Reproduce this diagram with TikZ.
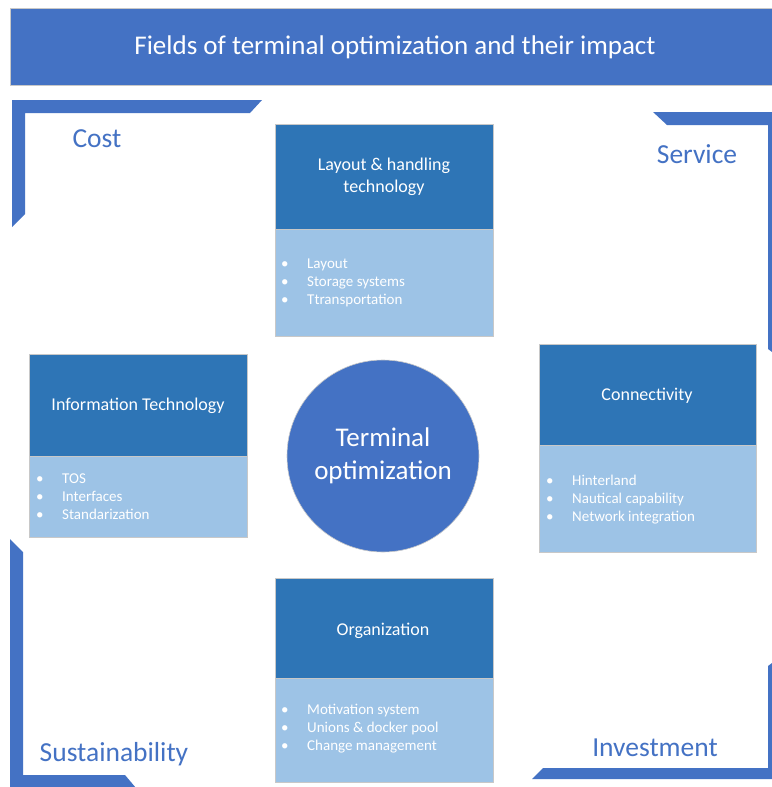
\documentclass[tikz,border=0pt]{standalone}
\usepackage{fontspec}
\setmainfont{Carlito}
\definecolor{obl}{HTML}{4472C4}
\definecolor{dbl}{HTML}{2E75B6}
\definecolor{lbl}{HTML}{9DC3E6}
\definecolor{edge}{HTML}{C8C8C8}
\begin{document}
\begin{tikzpicture}[x=1pt,y=-1pt,
  head/.style={fill=dbl,draw=edge,line width=0.8pt,anchor=north west,inner sep=0pt},
  headtext/.style={text=white,align=center,font=\fontsize{18}{22}\selectfont},
  body/.style={fill=lbl,draw=edge,line width=0.8pt,anchor=north west,inner sep=0pt},
  items/.style={anchor=west,inner sep=0pt,text=white,align=left,font=\fontsize{15}{18}\selectfont},
  bracket/.style={fill=obl,draw=none},
  cat/.style={text=obl,font=\fontsize{27.5}{30}\selectfont,inner sep=0pt}]
\useasboundingbox (0,0) rectangle (771,787);
\fill[white] (0,0) rectangle (771,787);
% title
\node[fill=obl,draw=edge,line width=0.8pt,anchor=north west,minimum width=762pt,minimum height=77pt,inner sep=0pt] (titlebar) at (10,8) {};
\node[text=white,font=\fontsize{27}{30}\selectfont] (title) at (395,47) {Fields of terminal optimization and their impact};
% brackets
\fill[bracket] (12,100) -- (262,100) -- (250,113) -- (25,113) -- (25,214) -- (12,227) -- cycle;
\fill[bracket] (653,112) -- (772,112) -- (772,352) -- (768,349) -- (768,125) -- (667,125) -- cycle;
\fill[bracket] (10,539) -- (23,552) -- (23,775) -- (125,775) -- (136,788) -- (10,788) -- cycle;
\fill[bracket] (532,779) -- (772,779) -- (772,663) -- (768,666) -- (768,768) -- (543,768) -- cycle;
% category labels
\node[cat] (cost) at (97,139) {Cost};
\node[cat] (service) at (697,154) {Service};
\node[cat] (sust) at (114,754) {Sustainability};
\node[cat] (invest) at (655,748) {Investment};
% layout box
\node[head,minimum width=218pt,minimum height=105pt] (layh) at (275,124) {};
\node[headtext] (layt) at (384,177) {Layout \& handling\\technology};
\node[body,minimum width=218pt,minimum height=107pt] (layb) at (275,229) {};
\node[items] (layi) at (281,283) {\makebox[26pt][l]{•}Layout\\\makebox[26pt][l]{•}Storage systems\\\makebox[26pt][l]{•}Ttransportation};
% IT box
\node[head,minimum width=218pt,minimum height=102pt] (ith) at (29,354) {};
\node[headtext] (itt) at (138,406) {Information Technology};
\node[body,minimum width=218pt,minimum height=81pt] (itb) at (29,456) {};
\node[items] (iti) at (36,497) {\makebox[26pt][l]{•}TOS\\\makebox[26pt][l]{•}Interfaces\\\makebox[26pt][l]{•}Standarization};
% connectivity box
\node[head,minimum width=217pt,minimum height=101pt] (conh) at (539,344) {};
\node[headtext] (cont) at (647,396) {Connectivity};
\node[body,minimum width=217pt,minimum height=107pt] (conb) at (539,445) {};
\node[items] (coni) at (546,500) {\makebox[26pt][l]{•}Hinterland\\\makebox[26pt][l]{•}Nautical capability\\\makebox[26pt][l]{•}Network integration};
% organization box
\node[head,minimum width=218pt,minimum height=100pt] (orgh) at (275,578) {};
\node[headtext] (orgt) at (383,631) {Organization};
\node[body,minimum width=218pt,minimum height=104pt] (orgb) at (275,678) {};
\node[items] (orgi) at (281,729) {\makebox[26pt][l]{•}Motivation system\\\makebox[26pt][l]{•}Unions \& docker pool\\\makebox[26pt][l]{•}Change management};
% circle
\node[circle,fill=obl,draw=edge,line width=0.6pt,minimum size=192pt,inner sep=0pt,text=white,align=center,font=\fontsize{27}{35}\selectfont] (center) at (383,456) {\raisebox{-2pt}{Terminal}\\optimization};
\end{tikzpicture}
\end{document}
